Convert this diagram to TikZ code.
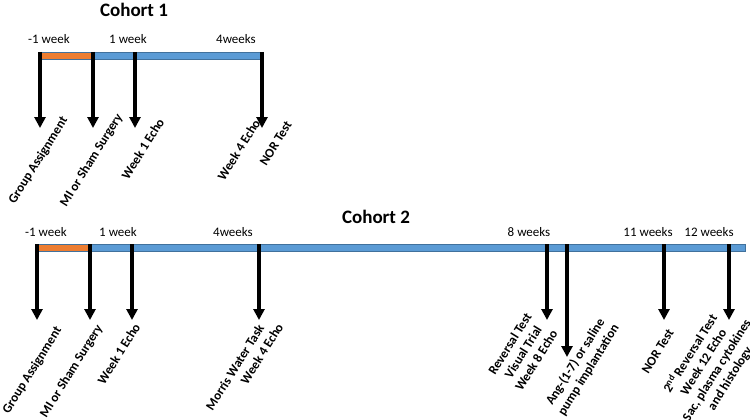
\documentclass[tikz,border=0pt]{standalone}
\usepackage{fontspec}
\setmainfont{Carlito}
\usetikzlibrary{arrows.meta}
\definecolor{barblue}{HTML}{5B9BD5}
\definecolor{barorange}{HTML}{ED7D31}
\definecolor{barline}{HTML}{41719C}
\tikzset{
  title/.style={font=\fontsize{19}{22}\selectfont\bfseries, inner sep=0pt},
  tick/.style={font=\fontsize{13}{16}\selectfont, inner sep=0pt},
  lab/.style={font=\fontsize{13}{16}\selectfont\bfseries, inner sep=0pt, rotate=58, anchor=north east},
  blocklab/.style={font=\fontsize{13}{15.5}\selectfont\bfseries, inner sep=0pt, rotate=58, anchor=center, align=center},
  evarrow/.style={line width=3.5pt, -{Triangle[width=11pt,length=11pt]}},
  bluebar/.style={fill=barblue, draw=barline, line width=0.6pt},
  orangebar/.style={fill=barorange, draw=barline, line width=0.6pt}
}
\begin{document}
\begin{tikzpicture}[x=1pt,y=-1pt]
\useasboundingbox (0,0) rectangle (750,420);
% ---------------- Cohort 1 ----------------
\node[title] (t1) at (134,10) {Cohort 1};
\node[tick] (c1m1) at (49,39) {-1 week};
\node[tick] (c1w1) at (128,39) {1 week};
\node[tick] (c1w4) at (236,39) {4weeks};
\path[orangebar] (40,52) rectangle (93,59);
\path[bluebar] (93,52) rectangle (263,59);
\foreach \n/\x in {a/40,b/93,c/135,d/262}{
  \coordinate (c1s\n) at (\x,52);
  \coordinate (c1e\n) at (\x,128);
}
\foreach \n in {a,b,c,d}{\draw[evarrow] (c1s\n) -- (c1e\n);}
\node[lab] (c1ga) at (60,115) {Group Assignment};
\node[lab] (c1mi) at (115,112) {MI or Sham Surgery};
\node[lab] (c1we) at (157,117) {Week 1 Echo};
\node[lab] (c1w4e) at (253,118) {Week 4 Echo};
\node[lab] (c1nor) at (285,120) {NOR Test};
% ---------------- Cohort 2 ----------------
\node[title] (t2) at (376,217) {Cohort 2};
\node[tick] (c2m1) at (46,232) {-1 week};
\node[tick] (c2w1) at (118,232) {1 week};
\node[tick] (c2w4) at (233,232) {4weeks};
\node[tick] (c2w8) at (529,232) {8 weeks};
\node[tick] (c2w11) at (648,232) {11 weeks};
\node[tick] (c2w12) at (709,232) {12 weeks};
\path[orangebar] (37,244) rectangle (90,251);
\path[bluebar] (90,244) rectangle (745,251);
\foreach \n/\x/\y in {a/37/320,b/90/320,c/132/320,d/259/320,e/547/320,f/567/357,g/664/320,h/729/320}{
  \coordinate (c2s\n) at (\x,244);
  \coordinate (c2e\n) at (\x,\y);
}
\foreach \n in {a,b,c,d,e,f,g,h}{\draw[evarrow] (c2s\n) -- (c2e\n);}
\node[lab] (c2ga) at (54,325) {Group Assignment};
\node[lab] (c2mi) at (95,323) {MI or Sham Surgery};
\node[lab] (c2we) at (133,322) {Week 1 Echo};
\node[lab] (c2mw) at (257,323) {Morris Water Task};
\node[lab] (c2w4e) at (276,322) {Week 4 Echo};
\node[blocklab] (c2rev) at (523,352) {Reversal Test\\Visual Trial\\Week 8 Echo};
\node[blocklab] (c2ang) at (582,366) {Ang-(1-7) or saline\\pump implantation};
\node[lab] (c2nor) at (667,328) {NOR Test};
\node[blocklab] (c2end) at (710,366) {2\textsuperscript{nd} Reversal Test\\Week 12 Echo\\Sac, plasma cytokines\\and histology};
\end{tikzpicture}
\end{document}
